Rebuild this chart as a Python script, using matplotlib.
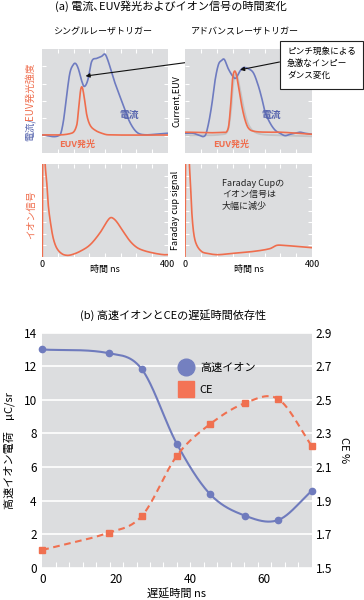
import numpy as np
import matplotlib
matplotlib.use('Agg')
import matplotlib.pyplot as plt
from matplotlib.lines import Line2D
from matplotlib.patches import Rectangle

plt.rcParams['font.family'] = ['Noto Sans CJK JP', 'DejaVu Sans']

BLUE = '#6e7bc0'
ORANGE = '#ef6d4d'
GRAYLINE = '#c3c4c6'
BG = '#dcdddf'

# ---------------- data: (a) top panels (time ns, normalized signal) -------------
t_cur_single = [0, 56, 67, 78, 88, 99, 106.5, 115, 126, 134, 145, 157.5, 173.5, 189.5, 200,
                210.5, 226.5, 242, 258, 274, 290, 306, 328, 360, 400]
cur_single = [0.173, 0.173, 0.30, 0.56, 0.77, 0.85, 0.86, 0.81, 0.69, 0.64, 0.70, 0.88, 0.91,
              0.93, 0.95, 0.88, 0.72, 0.59, 0.46, 0.33, 0.24, 0.19, 0.175, 0.18, 0.19]
t_euv_single = [0, 93, 110, 117, 122.5, 127.6, 134, 141.6, 152, 168, 189.5, 210, 400]
euv_single = [0.173, 0.19, 0.27, 0.46, 0.61, 0.63, 0.53, 0.37, 0.27, 0.22, 0.19, 0.175, 0.173]

t_cur_adv = [0, 26, 42, 63, 73, 84, 94, 105, 115, 123.5, 136, 152, 160, 171, 183, 199, 215,
             230, 241, 251, 267, 283, 298.5, 314, 330, 346, 361, 377, 400]
cur_adv = [0.19, 0.19, 0.173, 0.167, 0.27, 0.46, 0.69, 0.85, 0.89, 0.90, 0.81, 0.73, 0.72,
           0.78, 0.82, 0.81, 0.77, 0.65, 0.53, 0.40, 0.29, 0.22, 0.19, 0.167, 0.18, 0.19,
           0.20, 0.19, 0.18]
t_euv_adv = [0, 120, 136, 143.6, 148.7, 154, 160, 167.6, 178, 188.5, 199, 215, 257, 300, 400]
euv_adv = [0.20, 0.20, 0.24, 0.46, 0.69, 0.78, 0.77, 0.65, 0.46, 0.32, 0.24, 0.21, 0.20,
           0.20, 0.18]
t_euv_ref = [0, 120, 136, 145, 150, 156, 163, 170, 180, 190, 200, 215, 240, 300, 400]
euv_ref = [0.17, 0.18, 0.23, 0.42, 0.62, 0.74, 0.75, 0.66, 0.50, 0.36, 0.27, 0.21, 0.18,
           0.17, 0.16]

# ---------------- data: (a) lower panels (ion signal) ----------------
t_ion_single = [0, 2, 9, 14, 19, 27, 35, 46, 62, 78, 94, 120, 152, 184, 206, 216, 224, 237,
                258, 280, 301, 322, 354, 386, 400]
ion_single = [0.0, 1.5, 1.0, 0.81, 0.56, 0.35, 0.20, 0.096, 0.036, 0.018, 0.025, 0.06, 0.13,
              0.26, 0.38, 0.42, 0.42, 0.38, 0.275, 0.17, 0.104, 0.071, 0.043, 0.025, 0.025]
t_ion_adv = [0, 3, 13.6, 17.8, 22, 28, 36.6, 52, 68, 99.5, 131, 162, 215, 267, 288, 309, 351, 400]
ion_adv = [0.0, 1.5, 1.0, 0.74, 0.45, 0.24, 0.13, 0.06, 0.04, 0.025, 0.032, 0.043, 0.06, 0.09,
           0.125, 0.125, 0.114, 0.10]

# ---------------- data: (b) delay dependence ----------------
delay = [0, 18, 27, 36.5, 45.5, 55, 64, 73]
fast_ion = [13.0, 12.78, 11.82, 7.37, 4.38, 3.10, 2.85, 4.57]
ce = [1.606, 1.709, 1.809, 2.168, 2.356, 2.481, 2.504, 2.227]
left_ticks = [0, 2, 4, 6, 8, 10, 12, 14]
right_ticks = [1.5, 1.7, 1.9, 2.1, 2.3, 2.5, 2.7, 2.9]
x_ticks = [0, 20, 40, 60]


def smooth(x, y, n=500):
    x = np.asarray(x, float)
    y = np.asarray(y, float)
    m = np.zeros_like(y)
    m[1:-1] = (y[2:] - y[:-2]) / (x[2:] - x[:-2])
    m[0] = (y[1] - y[0]) / (x[1] - x[0])
    m[-1] = (y[-1] - y[-2]) / (x[-1] - x[-2])
    xs = np.linspace(x[0], x[-1], n)
    i = np.clip(np.searchsorted(x, xs, side='right') - 1, 0, len(x) - 2)
    h = x[i + 1] - x[i]
    s = (xs - x[i]) / h
    h00 = 2 * s**3 - 3 * s**2 + 1
    h10 = s**3 - 2 * s**2 + s
    h01 = -2 * s**3 + 3 * s**2
    h11 = s**3 - s**2
    ys = h00 * y[i] + h10 * h * m[i] + h01 * y[i + 1] + h11 * h * m[i + 1]
    return xs, ys


W, H = 364, 600
fig = plt.figure(figsize=(W / 100, H / 100), dpi=100)
fig.patch.set_facecolor('white')


def add_ax(x0, y0, x1, y1):
    return fig.add_axes([x0 / W, 1 - y1 / H, (x1 - x0) / W, (y1 - y0) / H])


def px(x, y):
    return x / W, 1 - y / H


def style_panel(ax, yticks):
    ax.set_facecolor(BG)
    for s in ax.spines.values():
        s.set_visible(False)
    ax.set_xlim(0, 400)
    ax.set_ylim(0, 1)
    ax.set_xticks(np.arange(50, 400, 50), minor=True)
    ax.set_yticks(yticks, minor=True)
    ax.tick_params(which='both', direction='in', color='white', length=3, width=0.8,
                   top=True, right=True, left=True, bottom=True)
    ax.set_yticks([])


def sline(ax, x, y, **kw):
    xs, ys = smooth(x, y)
    ax.plot(xs, ys, **kw)


# ---- top panels
ax1 = add_ax(42.3, 49, 167.7, 153)
style_panel(ax1, np.arange(1, 6) / 6)
ax1.set_xticks([])
sline(ax1, t_cur_single, cur_single, color=BLUE, lw=1.2)
sline(ax1, t_euv_single, euv_single, color=ORANGE, lw=1.2)
ax1.text(276, 0.37, '電流', color='#5563ad', fontsize=7, fontweight='bold', ha='center', va='center')
ax1.text(110, 0.08, 'EUV発光', color=ORANGE, fontsize=6.5, fontweight='bold', ha='center', va='center')

ax2 = add_ax(185, 49, 312.3, 153)
style_panel(ax2, np.arange(1, 6) / 6)
ax2.set_xticks([])
sline(ax2, t_euv_ref, euv_ref, color=GRAYLINE, lw=1.3)
sline(ax2, t_cur_adv, cur_adv, color=BLUE, lw=1.2)
sline(ax2, t_euv_adv, euv_adv, color=ORANGE, lw=1.2)
ax2.text(272, 0.37, '電流', color='#5563ad', fontsize=7, fontweight='bold', ha='center', va='center')
ax2.text(145, 0.08, 'EUV発光', color=ORANGE, fontsize=6.5, fontweight='bold', ha='center', va='center')

# ---- lower panels
ax3 = add_ax(42.3, 164, 167.7, 257)
style_panel(ax3, np.arange(1, 8) / 8)
sline(ax3, t_ion_single, ion_single, color=ORANGE, lw=1.2, clip_on=True)
ax3.set_xticks([0, 400])
ax3.set_xticklabels(['0', '400'], fontsize=6.5)
ax3.tick_params(axis='x', which='major', length=0, pad=2)
ax3.set_xlabel('時間 ns', fontsize=6.5, labelpad=-3)

ax4 = add_ax(185, 164, 312.3, 257)
style_panel(ax4, np.arange(1, 8) / 8)
sline(ax4, t_ion_adv, ion_adv, color=ORANGE, lw=1.2, clip_on=True)
ax4.set_xticks([0, 400])
ax4.set_xticklabels(['0', '400'], fontsize=6.5)
ax4.tick_params(axis='x', which='major', length=0, pad=2)
ax4.set_xlabel('時間 ns', fontsize=6.5, labelpad=-3)
ax4.text(0.29, 0.84, 'Faraday Cupの\nイオン信号は\n大幅に減少', transform=ax4.transAxes,
         fontsize=6.5, ha='left', va='top', linespacing=1.35, color='#222222')

# ---- (a) titles and labels
fig.text(*px(171, 6.5), '(a) 電流､EUV発光およびイオン信号の時間変化', fontsize=8,
         ha='center', va='center')
fig.text(*px(103, 32), 'シングルレーザトリガー', fontsize=6.5, ha='center', va='center')
fig.text(*px(245, 32), 'アドバンスレーザトリガー', fontsize=6.5, ha='center', va='center')
fig.text(*px(30, 141), '電流/', color='#5563ad', fontsize=7, rotation=90, ha='center', va='bottom')
fig.text(*px(30, 62), 'EUV発光強度', color=ORANGE, fontsize=7, rotation=90, ha='center', va='top')
fig.text(*px(176, 101), 'Current,EUV', fontsize=6.5, rotation=90, ha='center', va='center')
fig.text(*px(31, 215), 'イオン信号', color=ORANGE, fontsize=7, rotation=90, ha='center', va='center')
fig.text(*px(176, 210), 'Faraday cup signal', fontsize=6.5, rotation=90, ha='center', va='center')

# annotation box and arrows
fig.add_artist(Rectangle(px(279.5, 89), 83.5 / W, 48 / H, transform=fig.transFigure,
                         facecolor='white', edgecolor='#222222', lw=0.8, zorder=5))
fig.text(*px(287, 47), 'ピンチ現象による\n急激なインピー\nダンス変化', fontsize=6.2,
         ha='left', va='top', linespacing=1.45, zorder=6)
ax1.annotate('', xy=(138, 0.74), xycoords='data', xytext=px(279.5, 50),
             textcoords='figure fraction', annotation_clip=False,
             arrowprops=dict(arrowstyle='-|>', color='#111111', lw=0.8, mutation_scale=6,
                             shrinkA=0, shrinkB=0), zorder=4)
ax2.annotate('', xy=(173, 0.80), xycoords='data', xytext=px(279.5, 62),
             textcoords='figure fraction', annotation_clip=False,
             arrowprops=dict(arrowstyle='-|>', color='#111111', lw=0.8, mutation_scale=6,
                             shrinkA=0, shrinkB=0), zorder=4)

# ---------------- (b) ----------------
axb = add_ax(42.3, 332.7, 311.6, 567.8)
axb.set_facecolor(BG)
for s in axb.spines.values():
    s.set_visible(False)
axb.set_xlim(delay[0], delay[-1])
axb.set_ylim(left_ticks[0], left_ticks[-1])
axb.set_yticks(left_ticks)
axb.set_yticklabels([str(v) for v in left_ticks], fontsize=8.5)
axb.grid(axis='y', color='white', lw=1.2)
axb.set_axisbelow(True)
axb.tick_params(axis='y', length=0, pad=4)
axb.set_xticks(x_ticks)
axb.set_xticklabels([str(v) for v in x_ticks], fontsize=8.5)
axb.set_xticks(np.arange(3.65, 73, 3.65), minor=True)
axb.tick_params(axis='x', which='major', length=0, pad=4)
axb.tick_params(axis='x', which='minor', direction='in', color='white', length=4, width=0.8)
axb.set_xlabel('遅延時間 ns', fontsize=8, labelpad=2)
axb.set_ylabel('高速イオン電荷　μC/sr', fontsize=8, labelpad=6)

axr = axb.twinx()
for s in axr.spines.values():
    s.set_visible(False)
axr.set_ylim(right_ticks[0], right_ticks[-1])
axr.set_yticks(right_ticks)
axr.set_yticklabels([f'{v:.1f}' for v in right_ticks], fontsize=8.5)
axr.tick_params(axis='y', length=0, pad=3)
axr.set_ylabel('CE %', fontsize=8, rotation=270, labelpad=12)

xs, ys = smooth(delay, fast_ion)
axb.plot(xs, ys, color='#6f7bbd', lw=1.5, zorder=3, clip_on=False)
axb.plot(delay, fast_ion, 'o', color='#6f7bbd', ms=4.5, zorder=4, clip_on=False)
xs2, ys2 = smooth(delay, ce)
axr.plot(xs2, ys2, color='#f07050', lw=1.5, ls=(0, (3.2, 2.2)), zorder=3, clip_on=False)
axr.plot(delay, ce, 's', color='#f07050', ms=5, zorder=4, clip_on=False)

handles = [Line2D([], [], marker='o', ls='', ms=12, color='#7480c0'),
           Line2D([], [], marker='s', ls='', ms=11, color='#f47356')]
axr.legend(handles, ['高速イオン', 'CE'], loc='upper left', bbox_to_anchor=(0.49, 0.895),
           frameon=False, fontsize=8, borderpad=0, handlelength=1.2, handletextpad=0.6,
           labelspacing=1.1)

fig.text(*px(173, 315), '(b) 高速イオンとCEの遅延時間依存性', fontsize=8, ha='center', va='center')

fig.savefig('out.png', dpi=100)
